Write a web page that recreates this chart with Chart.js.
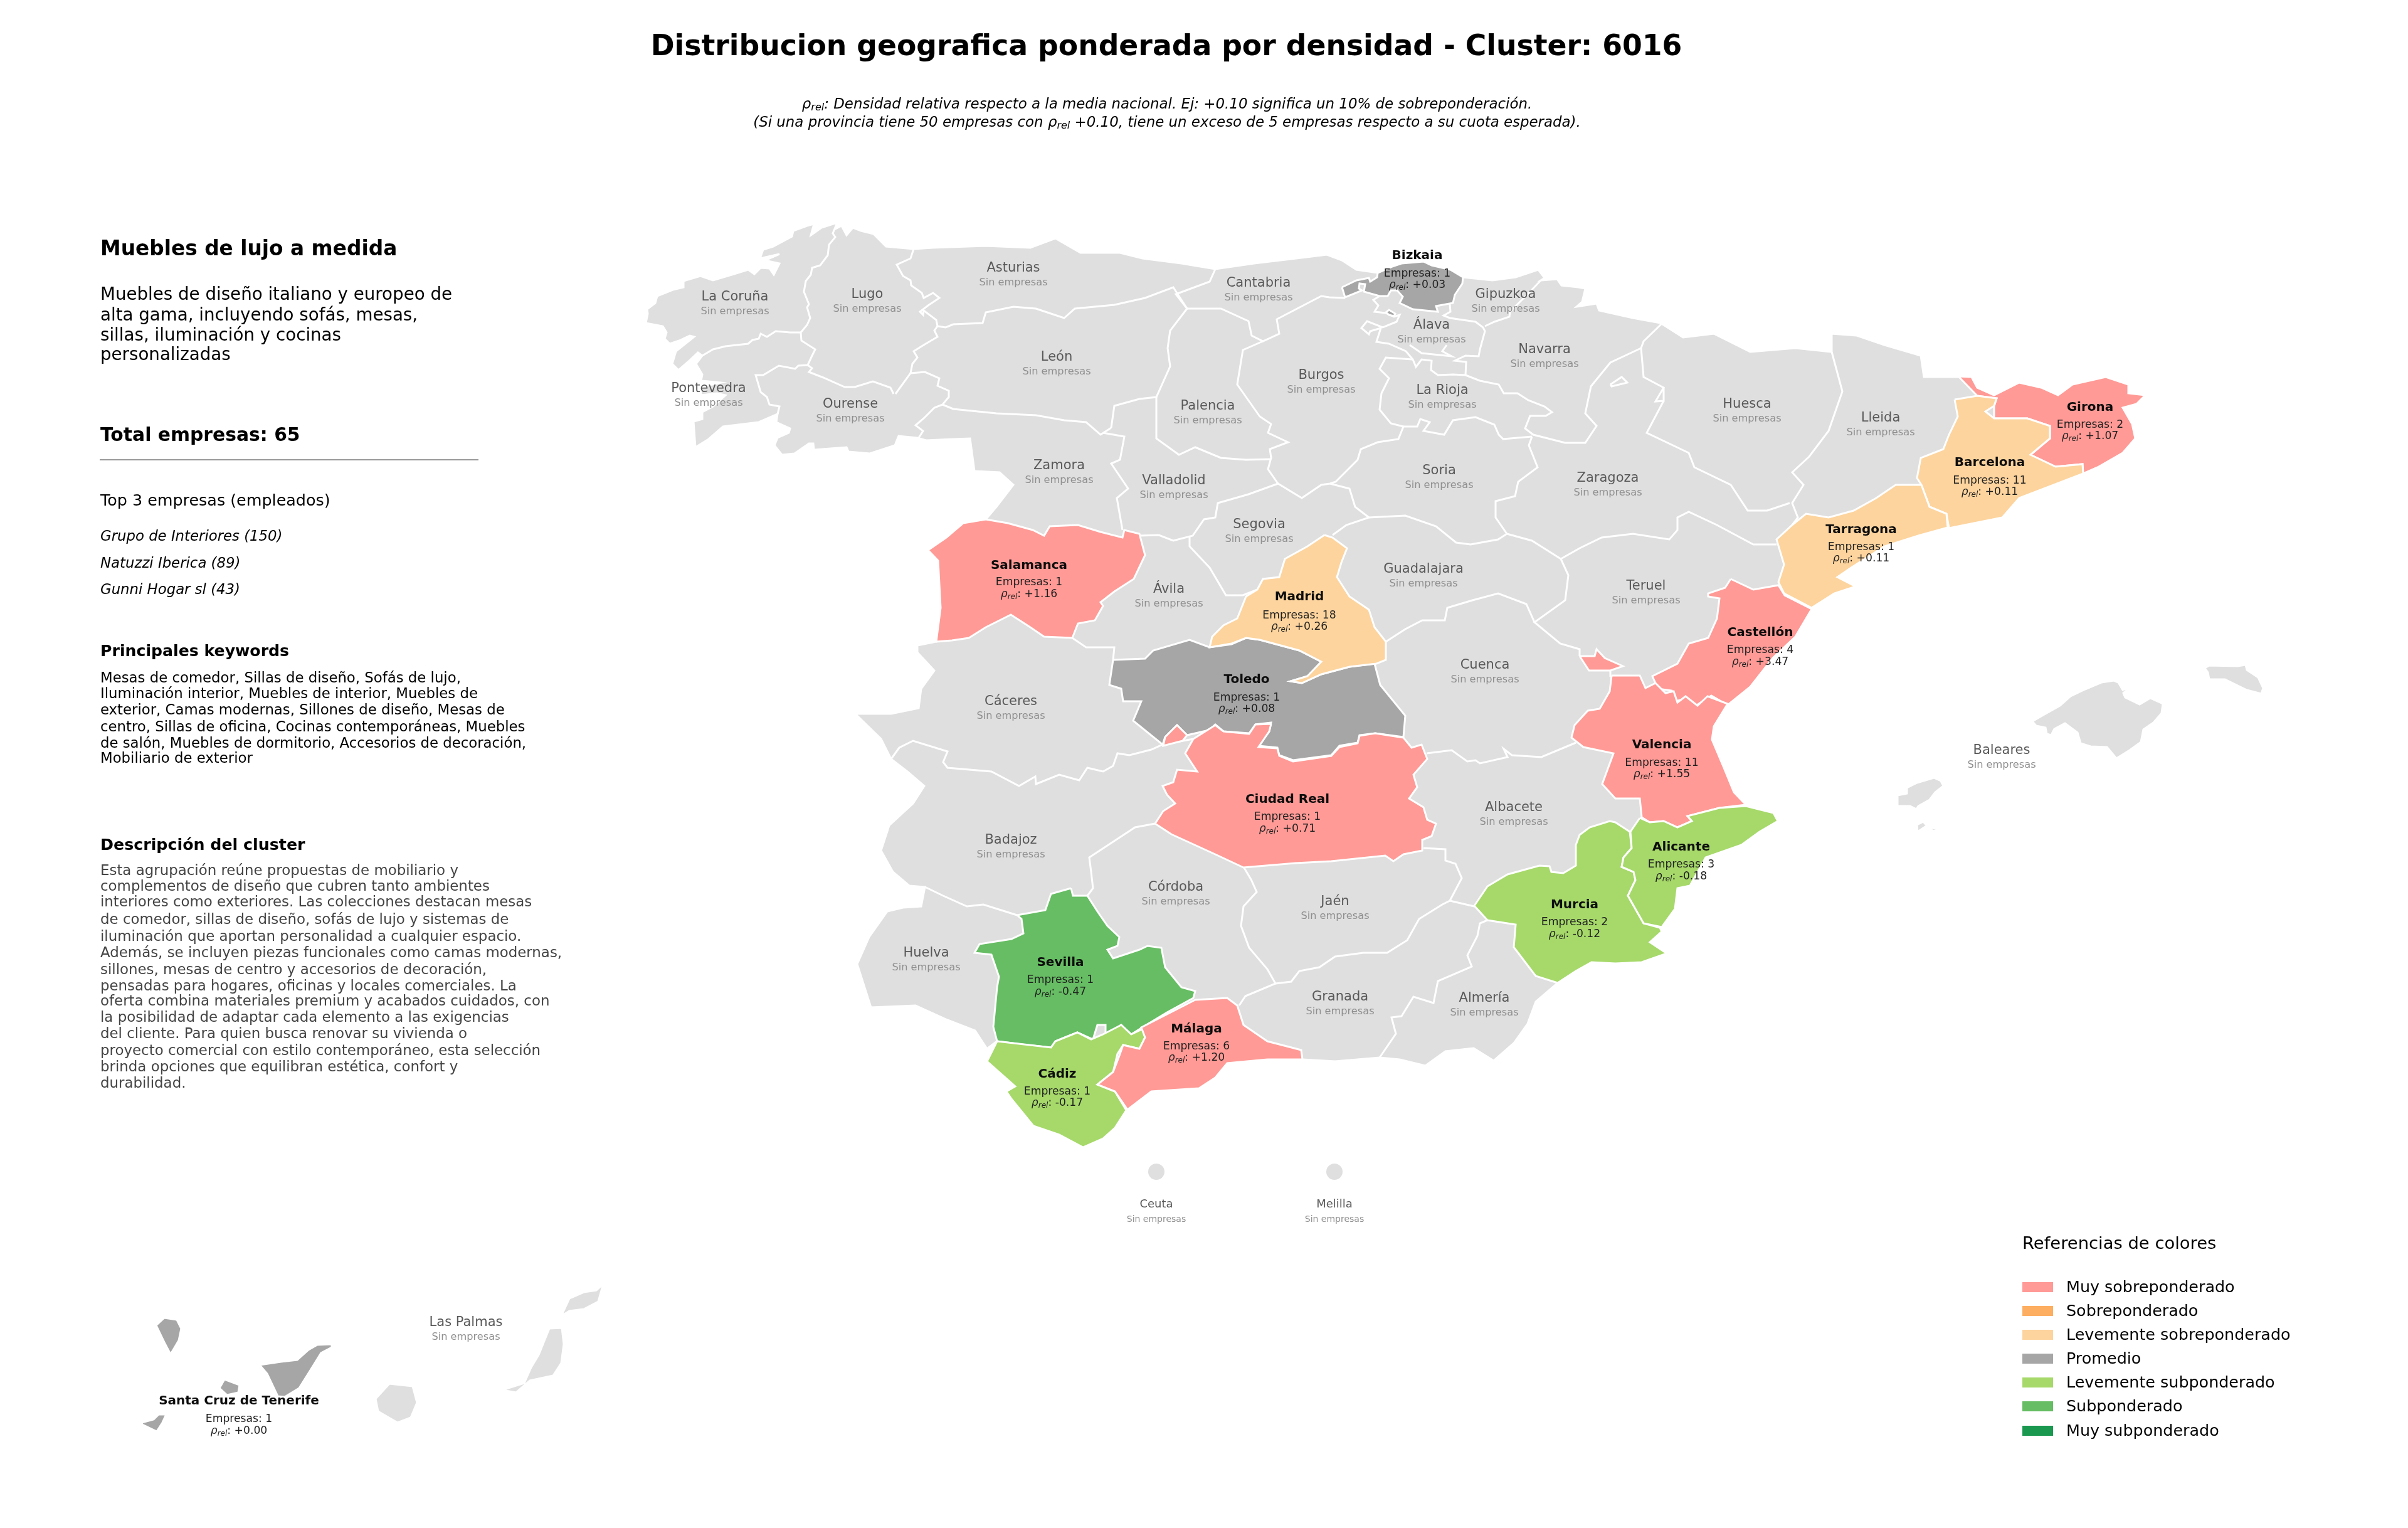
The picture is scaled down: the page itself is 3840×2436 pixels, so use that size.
<!DOCTYPE html>
<html>
<head>
<meta charset="utf-8">
<title>Distribucion geografica</title>
<script src="https://cdn.jsdelivr.net/npm/chart.js@4"></script>
<style>
    html, body { margin: 0; padding: 0; background: #fff; }
    #wrap { width: 3840px; height: 2436px; }
</style>
</head>
<body>
<div id="wrap"><canvas id="mapChart" width="3840" height="2436"></canvas></div>
<script>
// Legend categories and their colours
const legendLabels = ['Muy sobreponderado', 'Sobreponderado', 'Levemente sobreponderado', 'Promedio', 'Levemente subponderado', 'Subponderado', 'Muy subponderado'];
const legendColors = ['#ff9a96', '#fdae61', '#fdd49e', '#a6a6a6', '#a6d96a', '#66bd63', '#1a9850'];
const landColor = '#dfdfdf';

// Provinces with companies
const activeNames = ['Bizkaia', 'Salamanca', 'Madrid', 'Toledo', 'Girona', 'Barcelona', 'Tarragona', 'Castellón', 'Valencia', 'Ciudad Real', 'Alicante', 'Murcia', 'Sevilla', 'Málaga', 'Cádiz', 'Santa Cruz de Tenerife'];
const activeCompanies = [1, 1, 18, 1, 2, 11, 1, 4, 11, 1, 3, 2, 1, 6, 1, 1];
const activeRho = ['+0.03', '+1.16', '+0.26', '+0.08', '+1.07', '+0.11', '+0.11', '+3.47', '+1.55', '+0.71', '-0.18', '-0.12', '-0.47', '+1.20', '-0.17', '+0.00'];
const activeBucket = [3, 0, 2, 3, 0, 2, 2, 0, 0, 0, 4, 4, 5, 0, 4, 3];

// Provinces without companies
const emptyNames = ['La Coruña', 'Lugo', 'Asturias', 'Cantabria', 'Gipuzkoa', 'Álava', 'Navarra', 'León', 'Pontevedra', 'Ourense', 'Palencia', 'Burgos', 'La Rioja', 'Huesca', 'Lleida', 'Zamora', 'Valladolid', 'Soria', 'Zaragoza', 'Segovia', 'Guadalajara', 'Ávila', 'Teruel', 'Cáceres', 'Cuenca', 'Baleares', 'Albacete', 'Badajoz', 'Córdoba', 'Jaén', 'Huelva', 'Granada', 'Almería', 'Ceuta', 'Melilla', 'Las Palmas'];
const smallNames = ['Ceuta', 'Melilla'];

// Map outlines, in map units
const peninsula = [[1109,713],[1106,672],[1120,668],[1120,657],[1137,648],[1157,630],[1143,627],[1118,630],[1117,617],[1150,610],[1130,608],[1118,607],[1120,597],[1110,580],[1120,567],[1113,562],[1097,577],[1082,590],[1072,580],[1078,560],[1107,537],[1100,535],[1083,543],[1068,548],[1060,540],[1063,530],[1057,520],[1030,515],[1033,500],[1032,493],[1045,483],[1048,472],[1073,462],[1090,458],[1090,448],[1117,440],[1137,447],[1167,438],[1193,430],[1203,437],[1213,427],[1227,428],[1234,438],[1243,420],[1220,415],[1243,405],[1212,412],[1217,398],[1233,393],[1263,377],[1265,368],[1287,360],[1298,357],[1293,375],[1303,368],[1310,363],[1335,355],[1332,365],[1342,360],[1350,375],[1360,363],[1373,368],[1393,373],[1413,393],[1457,397],[1487,395],[1572,392],[1643,395],[1683,380],[1723,403],[1786,403],[1822,412],[1884,420],[1938,429],[2000,420],[2067,412],[2116,406],[2140,415],[2163,430],[2197,435],[2220,425],[2235,420],[2270,417],[2283,423],[2313,430],[2333,442],[2380,447],[2417,442],[2453,430],[2463,443],[2457,447],[2483,445],[2490,455],[2517,458],[2528,460],[2523,481],[2514,489],[2546,484],[2550,495],[2604,507],[2648,515],[2684,538],[2733,532],[2773,552],[2791,561],[2863,555],[2921,561],[2921,532],[2961,535],[3005,550],[3063,567],[3068,601],[3122,601],[3144,601],[3153,618],[3180,630],[3220,610],[3255,618],[3282,630],[3305,613],[3358,601],[3394,613],[3394,627],[3421,630],[3407,644],[3385,650],[3400,676],[3405,699],[3385,722],[3345,745],[3322,755],[3220,794],[3193,825],[3108,842],[3059,854],[3005,871],[2952,905],[2930,920],[2959,935],[2925,946],[2889,971],[2863,1015],[2827,1049],[2791,1095],[2755,1124],[2733,1158],[2730,1179],[2749,1224],[2765,1263],[2784,1285],[2828,1296],[2835,1309],[2806,1326],[2777,1347],[2720,1367],[2695,1412],[2675,1416],[2671,1449],[2650,1478],[2650,1485],[2631,1502],[2658,1520],[2618,1534],[2576,1536],[2538,1534],[2513,1548],[2484,1567],[2449,1597],[2436,1632],[2414,1663],[2382,1691],[2350,1671],[2305,1676],[2273,1699],[2232,1689],[2200,1686],[2129,1692],[2078,1689],[2021,1689],[1957,1695],[1938,1718],[1912,1735],[1836,1740],[1798,1769],[1778,1798],[1759,1815],[1727,1829],[1689,1809],[1648,1795],[1613,1752],[1605,1740],[1619,1732],[1574,1692],[1590,1660],[1574,1672],[1555,1643],[1511,1626],[1460,1603],[1389,1606],[1367,1537],[1386,1494],[1415,1453],[1440,1447],[1469,1445],[1475,1414],[1450,1412],[1424,1390],[1405,1356],[1418,1316],[1456,1281],[1474,1253],[1447,1230],[1421,1210],[1405,1178],[1364,1138],[1421,1138],[1465,1129],[1469,1098],[1490,1069],[1463,1040],[1463,1029],[1493,1023],[1500,969],[1496,894],[1480,877],[1509,857],[1536,834],[1572,828],[1589,808],[1616,773],[1594,753],[1554,751],[1547,699],[1520,700],[1477,702],[1463,698],[1433,695],[1427,710],[1387,723],[1353,720],[1350,713],[1298,717],[1297,707],[1290,707],[1267,723],[1247,725],[1235,710],[1240,698],[1258,690],[1260,683],[1238,673],[1240,660],[1210,673],[1153,680],[1130,700]];
const mallorca = [[3241,1150],[3262,1138],[3285,1125],[3302,1110],[3325,1099],[3351,1088],[3371,1085],[3378,1088],[3385,1100],[3398,1095],[3386,1105],[3389,1112],[3412,1123],[3429,1113],[3449,1122],[3447,1137],[3434,1152],[3418,1163],[3414,1183],[3396,1196],[3375,1209],[3360,1191],[3334,1190],[3318,1185],[3313,1168],[3293,1153],[3276,1162],[3271,1172],[3264,1170],[3262,1160],[3247,1157]];
const menorca = [[3516,1065],[3523,1061],[3568,1062],[3581,1060],[3583,1068],[3601,1080],[3609,1097],[3606,1106],[3583,1100],[3548,1083],[3523,1083],[3521,1072]];
const ibiza = [[3026,1268],[3041,1265],[3041,1256],[3057,1248],[3084,1240],[3095,1245],[3099,1253],[3086,1263],[3077,1275],[3059,1285],[3056,1290],[3046,1285],[3026,1285]];
const formentera = [[3057,1315],[3067,1310],[3075,1319],[3092,1322],[3084,1325],[3070,1318],[3058,1326]];
const granCanaria = [[621,2206],[658,2210],[665,2236],[655,2260],[634,2268],[603,2250],[599,2230]];
const fuerteventura = [[876,2118],[896,2117],[899,2143],[895,2173],[882,2193],[845,2201],[823,2220],[801,2216],[836,2205],[847,2180],[859,2160]];
const lanzarote = [[895,2098],[908,2070],[931,2060],[951,2057],[962,2047],[954,2075],[931,2087],[908,2090]];
const laPalma = [[249,2113],[262,2101],[282,2104],[289,2118],[285,2137],[272,2159],[262,2140]];
const tenerife = [[414,2176],[448,2171],[474,2168],[492,2152],[506,2144],[529,2143],[529,2148],[512,2157],[494,2186],[477,2213],[454,2227],[443,2226],[426,2190]];
const laGomera = [[358,2199],[382,2208],[380,2220],[362,2224],[350,2213]];
const elHierro = [[226,2268],[245,2263],[253,2255],[265,2255],[259,2268],[250,2282],[227,2271]];
const ceutaMelilla = [[1844,1868],[2128,1868]];

const bizkaia = [[2140,458],[2163,447],[2183,443],[2185,449],[2196,442],[2197,435],[2220,425],[2235,420],[2270,417],[2283,423],[2313,430],[2333,442],[2332,452],[2320,470],[2317,483],[2290,488],[2293,497],[2253,493],[2232,483],[2237,473],[2228,463],[2218,463],[2213,472],[2200,472],[2175,465],[2177,453],[2168,452],[2167,460],[2172,463],[2145,474]];
const bizkaiaEnclave = [[2210,498],[2215,494],[2225,500],[2223,504],[2215,502]];
const salamanca = [[1493,1023],[1500,969],[1496,894],[1480,877],[1509,857],[1536,834],[1572,828],[1607,834],[1647,845],[1665,854],[1674,839],[1719,837],[1755,848],[1790,857],[1793,845],[1817,851],[1826,885],[1808,923],[1777,943],[1755,960],[1759,966],[1746,989],[1719,994],[1710,1017],[1665,1015],[1643,1000],[1612,980],[1572,1000],[1545,1017],[1518,1021]];
const madrid = [[2112,853],[2125,857],[2148,874],[2139,897],[2132,920],[2152,951],[2183,972],[2192,1000],[2210,1023],[2210,1052],[2195,1058],[2152,1063],[2107,1075],[2076,1089],[2058,1086],[2085,1078],[2107,1055],[2072,1037],[2009,1020],[1987,1017],[1964,1026],[1929,1032],[1933,1015],[1951,997],[1973,986],[1987,951],[2005,940],[2014,923],[2040,920],[2049,891],[2085,871]];
const toledo = [[1775,1052],[1826,1050],[1839,1037],[1897,1020],[1929,1032],[1964,1027],[1987,1017],[2009,1020],[2072,1037],[2107,1055],[2085,1078],[2058,1086],[2076,1089],[2107,1075],[2152,1063],[2192,1058],[2201,1092],[2241,1141],[2238,1175],[2193,1169],[2168,1172],[2165,1184],[2136,1189],[2123,1204],[2062,1212],[2040,1204],[2037,1192],[2007,1189],[2024,1166],[2027,1152],[2002,1155],[1992,1169],[1951,1166],[1938,1155],[1928,1164],[1893,1172],[1877,1156],[1858,1175],[1854,1187],[1807,1149],[1820,1118],[1791,1118],[1788,1098],[1769,1092]];
const ciudadReal = [[2027,1154],[2024,1166],[2007,1191],[2037,1193],[2040,1205],[2062,1214],[2123,1205],[2136,1191],[2165,1185],[2168,1173],[2193,1169],[2238,1176],[2251,1192],[2267,1187],[2276,1210],[2254,1235],[2260,1255],[2247,1273],[2270,1287],[2276,1307],[2290,1313],[2283,1333],[2268,1339],[2268,1356],[2238,1362],[2222,1373],[2209,1364],[2123,1373],[2066,1376],[1983,1383],[1938,1362],[1868,1330],[1842,1313],[1855,1293],[1874,1281],[1861,1267],[1854,1253],[1871,1247],[1877,1227],[1909,1230],[1890,1201],[1903,1178],[1938,1156],[1951,1166],[1992,1170],[2002,1155]];
const ciudadRealEnclave = [[1858,1175],[1877,1156],[1893,1172],[1886,1181],[1855,1189]];
const girona = [[3123,600],[3144,601],[3153,618],[3180,630],[3220,610],[3255,618],[3282,630],[3305,613],[3358,601],[3394,613],[3394,627],[3421,630],[3407,644],[3385,650],[3400,676],[3405,699],[3385,722],[3345,745],[3322,755],[3321,740],[3278,744],[3238,725],[3269,699],[3269,679],[3233,667],[3180,667],[3180,647],[3184,635],[3153,631]];
const barcelona = [[3117,637],[3153,631],[3184,635],[3180,647],[3166,656],[3180,667],[3233,667],[3269,679],[3269,699],[3238,725],[3278,744],[3321,740],[3322,755],[3220,794],[3193,825],[3108,842],[3104,819],[3077,808],[3064,773],[3057,762],[3063,730],[3099,716],[3108,693],[3122,664]];
const tarragona = [[3064,773],[3077,808],[3104,819],[3106,841],[3059,854],[3005,871],[2952,905],[2930,920],[2959,935],[2925,946],[2889,969],[2845,946],[2836,928],[2845,900],[2833,860],[2858,837],[2880,819],[2916,825],[2956,814],[2992,794],[3023,773]];
const castellon = [[2760,923],[2796,940],[2836,933],[2846,949],[2889,971],[2863,1015],[2827,1049],[2791,1095],[2755,1124],[2729,1109],[2706,1124],[2684,1115],[2671,1118],[2666,1101],[2644,1098],[2635,1078],[2675,1058],[2693,1026],[2724,1017],[2738,986],[2742,954],[2724,951],[2724,946],[2751,937]];
const valencia = [[2570,1077],[2615,1077],[2624,1097],[2640,1089],[2656,1105],[2669,1102],[2675,1120],[2688,1110],[2707,1125],[2723,1110],[2755,1122],[2733,1158],[2730,1179],[2749,1224],[2765,1263],[2784,1283],[2742,1288],[2691,1301],[2698,1309],[2675,1319],[2653,1309],[2631,1311],[2618,1303],[2615,1273],[2576,1273],[2555,1250],[2573,1201],[2525,1191],[2506,1176],[2511,1156],[2532,1133],[2551,1130],[2567,1102]];
const valenciaEnclave = [[2519,1046],[2543,1046],[2546,1035],[2559,1049],[2588,1062],[2568,1069],[2534,1069]];
const alicante = [[2615,1304],[2631,1311],[2653,1309],[2675,1319],[2698,1309],[2691,1301],[2742,1288],[2784,1285],[2828,1296],[2835,1309],[2806,1326],[2777,1347],[2720,1367],[2695,1412],[2675,1416],[2671,1449],[2650,1478],[2621,1472],[2596,1428],[2608,1403],[2605,1390],[2586,1382],[2589,1367],[2602,1352],[2600,1326]];
const murcia = [[2599,1326],[2576,1311],[2567,1309],[2535,1319],[2519,1331],[2513,1347],[2513,1380],[2493,1392],[2474,1390],[2471,1381],[2455,1380],[2404,1394],[2372,1413],[2351,1444],[2372,1467],[2417,1474],[2414,1510],[2449,1556],[2484,1567],[2513,1548],[2538,1534],[2576,1536],[2618,1534],[2658,1520],[2631,1502],[2650,1485],[2647,1479],[2621,1472],[2596,1428],[2608,1403],[2605,1390],[2586,1382],[2589,1367],[2602,1352]];
const sevilla = [[1708,1416],[1711,1428],[1734,1428],[1750,1453],[1766,1476],[1785,1494],[1782,1508],[1766,1514],[1775,1528],[1817,1514],[1830,1508],[1852,1511],[1858,1542],[1884,1574],[1906,1580],[1903,1591],[1861,1614],[1823,1637],[1804,1649],[1788,1634],[1763,1651],[1763,1634],[1750,1634],[1743,1657],[1718,1646],[1683,1660],[1676,1670],[1629,1665],[1590,1660],[1584,1637],[1590,1574],[1593,1557],[1581,1522],[1554,1519],[1562,1505],[1613,1497],[1632,1488],[1629,1465],[1622,1459],[1667,1451],[1676,1425]];
const malaga = [[1906,1594],[1957,1591],[1973,1603],[1983,1634],[2021,1660],[2075,1674],[2077,1689],[2021,1689],[1957,1695],[1938,1718],[1912,1735],[1836,1740],[1798,1769],[1778,1740],[1750,1729],[1775,1709],[1785,1683],[1791,1666],[1817,1672],[1826,1654],[1820,1638],[1861,1617]];
const cadiz = [[1590,1660],[1676,1670],[1683,1660],[1718,1646],[1740,1657],[1759,1649],[1788,1634],[1804,1649],[1823,1640],[1826,1654],[1817,1672],[1791,1666],[1782,1680],[1775,1709],[1750,1729],[1778,1740],[1796,1770],[1778,1798],[1759,1815],[1727,1829],[1689,1809],[1648,1795],[1613,1752],[1605,1740],[1619,1732],[1574,1692]];

// Borders between the provinces without companies
const borderLines = [
    [[1120,567],[1137,557],[1157,552],[1193,548],[1200,542],[1210,540],[1213,532],[1223,537],[1237,528],[1260,530],[1277,530]],
    [[1335,355],[1328,372],[1332,378],[1322,390],[1320,407],[1308,423],[1295,427],[1293,438],[1285,448],[1282,465],[1290,485],[1287,490],[1292,507],[1287,518],[1277,530],[1278,543],[1300,557],[1295,567],[1288,582],[1295,587],[1290,593],[1313,602],[1347,617],[1363,617],[1392,608],[1420,618],[1425,628]],
    [[1457,397],[1452,412],[1430,422],[1440,440],[1452,447],[1453,455],[1470,467],[1473,475],[1488,467],[1498,475],[1480,487],[1467,497],[1472,502],[1473,495],[1493,510],[1495,520],[1490,527],[1495,537],[1473,550],[1457,560],[1463,570],[1455,580],[1452,595],[1428,628]],
    [[1288,582],[1273,583],[1268,588],[1242,583],[1217,598],[1205,598],[1213,625],[1223,633],[1227,645],[1243,648],[1240,660]],
    [[1452,595],[1475,593],[1498,603],[1495,615],[1513,623],[1513,633],[1503,645],[1490,650],[1473,667],[1460,678],[1472,687],[1465,698]],
    [[1495,520],[1508,522],[1520,517],[1567,515],[1572,498],[1616,489],[1652,492],[1697,507],[1714,492],[1777,486],[1826,475],[1871,458],[1893,492]],
    [[1938,429],[1929,449],[1875,469],[1893,492]],
    [[1893,492],[1866,527],[1862,555],[1866,584],[1844,633],[1817,636],[1777,647],[1772,682]],
    [[1503,645],[1520,652],[1589,659],[1652,662],[1697,670],[1732,673],[1755,693],[1772,682]],
    [[1759,690],[1793,696],[1786,733],[1772,739],[1799,779],[1781,794],[1790,845]],
    [[1893,492],[1947,492],[1991,512],[1996,535],[2014,544],[2040,532],[2036,509],[2107,472],[2120,474],[2145,475]],
    [[2014,544],[1982,558],[1973,613],[2009,664],[2027,676],[2022,690],[2054,705],[2025,716],[2027,730],[2022,748],[2038,771]],
    [[1844,633],[1844,699],[1880,725],[1906,713],[1947,730],[1987,733],[2027,732]],
    [[2200,472],[2190,478],[2198,487],[2192,497],[2210,499],[2223,505],[2232,502],[2227,513],[2205,522],[2180,512],[2171,523],[2183,533],[2185,528],[2202,523],[2195,545],[2215,548],[2242,560],[2253,573],[2258,585],[2267,573],[2283,575],[2282,590],[2293,598],[2317,597],[2337,598],[2338,577],[2320,575],[2337,567],[2358,568],[2360,557],[2368,528],[2365,522],[2353,513],[2312,507],[2302,503],[2313,497],[2312,485]],
    [[2248,550],[2267,563],[2315,568],[2300,560],[2307,550]],
    [[2252,573],[2210,570],[2200,588],[2215,603],[2203,627],[2200,653],[2218,675],[2238,680],[2230,700],[2197,705],[2170,716],[2165,733],[2130,768],[2121,771],[2107,773],[2076,794],[2038,771],[1991,788],[1942,802],[1938,825],[1920,828],[1902,854],[1871,862],[1848,853],[1817,854]],
    [[2238,680],[2260,680],[2265,668],[2280,673],[2270,687],[2303,693],[2317,670],[2353,665],[2383,677],[2390,693],[2397,700],[2443,696]],
    [[1897,854],[1897,871],[1929,905],[1955,949],[1982,949],[2005,940]],
    [[1710,1017],[1732,1032],[1777,1032],[1775,1052]],
    [[2121,771],[2152,779],[2161,808],[2183,825],[2147,837],[2125,853]],
    [[2183,825],[2241,822],[2290,839],[2322,865],[2345,868],[2389,860],[2403,851],[2385,825],[2385,799],[2416,791],[2421,768],[2452,745],[2438,710],[2443,696]],
    [[2337,598],[2360,607],[2390,613],[2398,627],[2420,627],[2437,638],[2463,648],[2475,657],[2465,663],[2440,663],[2432,683],[2445,693],[2496,706],[2528,706],[2546,679],[2528,659],[2537,616],[2568,578],[2617,555],[2621,544],[2650,516]],
    [[2368,520],[2383,513],[2407,505],[2408,497],[2440,465],[2457,447]],
    [[2568,613],[2586,601],[2595,610],[2570,616],[2568,613]],
    [[2617,555],[2621,601],[2653,618],[2640,640],[2653,639],[2653,618]],
    [[2653,639],[2626,690],[2693,722],[2702,745],[2760,773],[2787,814],[2818,814],[2854,802]],
    [[2921,561],[2938,624],[2916,687],[2885,728],[2858,753],[2876,773],[2858,802],[2867,825],[2858,837]],
    [[2833,868],[2796,868],[2738,837],[2693,816],[2675,825],[2675,845],[2662,860],[2604,851],[2554,857],[2519,874],[2489,891],[2443,862],[2403,851]],
    [[2489,891],[2501,917],[2496,957],[2447,992],[2488,1026],[2519,1035],[2519,1046]],
    [[2568,1069],[2568,1078],[2630,1098]],
    [[2447,992],[2434,963],[2389,946],[2348,957],[2308,969],[2304,989],[2268,989],[2241,1003],[2210,1023]],
    [[2275,1201],[2315,1196],[2340,1214],[2353,1212],[2360,1217],[2404,1207],[2398,1194],[2411,1204],[2458,1207],[2513,1184]],
    [[2270,1352],[2305,1354],[2305,1372],[2321,1377],[2331,1400],[2312,1436],[2351,1445]],
    [[2312,1436],[2300,1442],[2263,1465],[2244,1499],[2212,1519],[2174,1519],[2129,1525],[2104,1542],[2072,1548],[2059,1565],[2034,1568]],
    [[2372,1467],[2360,1472],[2356,1492],[2340,1523],[2347,1541],[2293,1564],[2286,1599],[2254,1589],[2235,1620],[2219,1622],[2226,1648],[2200,1686]],
    [[1983,1382],[1995,1402],[2004,1422],[1983,1445],[1979,1476],[1992,1511],[2021,1545],[2034,1568],[1986,1588],[1976,1603]],
    [[1842,1313],[1810,1319],[1775,1342],[1737,1367],[1740,1390],[1743,1416],[1734,1428]],
    [[1475,1414],[1504,1428],[1542,1445],[1568,1442],[1622,1459]],
    [[1421,1210],[1434,1192],[1456,1181],[1511,1198],[1504,1215],[1511,1224],[1581,1230],[1625,1253],[1651,1238],[1652,1250],[1689,1235],[1721,1244],[1734,1224],[1759,1230],[1775,1221],[1782,1201],[1801,1204],[1836,1195],[1854,1187],[1903,1178]],
    [[1590,1660],[1574,1672]]
];

// Side panel text
const chartTitle = 'Distribucion geografica ponderada por densidad - Cluster: 6016';
const clusterName = 'Muebles de lujo a medida';
const clusterSummary = ['Muebles de diseño italiano y europeo de', 'alta gama, incluyendo sofás, mesas,', 'sillas, iluminación y cocinas', 'personalizadas'];
const totalText = 'Total empresas: 65';
const topHeading = 'Top 3 empresas (empleados)';
const topCompanies = ['Grupo de Interiores (150)', 'Natuzzi Iberica (89)', 'Gunni Hogar sl (43)'];
const keywordsHeading = 'Principales keywords';
const keywordLines = ['Mesas de comedor, Sillas de diseño, Sofás de lujo,', 'Iluminación interior, Muebles de interior, Muebles de', 'exterior, Camas modernas, Sillones de diseño, Mesas de', 'centro, Sillas de oficina, Cocinas contemporáneas, Muebles', 'de salón, Muebles de dormitorio, Accesorios de decoración,', 'Mobiliario de exterior'];
const descHeading = 'Descripción del cluster';
const descLines = ['Esta agrupación reúne propuestas de mobiliario y', 'complementos de diseño que cubren tanto ambientes', 'interiores como exteriores. Las colecciones destacan mesas', 'de comedor, sillas de diseño, sofás de lujo y sistemas de', 'iluminación que aportan personalidad a cualquier espacio.', 'Además, se incluyen piezas funcionales como camas modernas,', 'sillones, mesas de centro y accesorios de decoración,', 'pensadas para hogares, oficinas y locales comerciales. La', 'oferta combina materiales premium y acabados cuidados, con', 'la posibilidad de adaptar cada elemento a las exigencias', 'del cliente. Para quien busca renovar su vivienda o', 'proyecto comercial con estilo contemporáneo, esta selección', 'brinda opciones que equilibran estética, confort y', 'durabilidad.'];

// Where the labels go on the map
const activeAt = [[2260,406,435,453],[1641,900,927,946],[2072,950,980,998],[1988,1082,1111,1129],[3333,648,676,694],[3173,736,765,783],[2968,843,871,889],[2807,1007,1035,1054],[2650,1186,1215,1233],[2053,1273,1301,1320],[2681,1349,1377,1396],[2511,1441,1469,1488],[1691,1533,1561,1580],[1908,1639,1667,1685],[1686,1711,1739,1757],[381,2232,2261,2280]];
const emptyAt = [[1172,472],[1383,468],[1616,426],[2007,450],[2401,468],[2283,517],[2463,556],[1685,568],[1130,618],[1356,643],[1926,646],[2107,597],[2300,621],[2786,643],[2999,665],[1689,741],[1872,765],[2295,749],[2564,761],[2008,835],[2270,906],[1864,938],[2625,933],[1612,1117],[2368,1059],[3192,1195],[2414,1286],[1612,1338],[1875,1413],[2129,1436],[1477,1518],[2137,1588],[2367,1590],[1844,1918],[2128,1918],[743,2107]];

const fontName = '"DejaVu Sans"';
// canvas 'middle' sits a little above the visual centre of the glyphs
const textDrop = 2;

function closed(points) {
    return points.concat([points[0]]).map(p => ({ x: p[0], y: p[1] }));
}

function shapeDataset(points, color) {
    return {
        data: closed(points),
        polygon: true,
        backgroundColor: color,
        borderColor: '#ffffff',
        borderWidth: 3,
        showLine: true,
        pointRadius: 0,
        tension: 0
    };
}

function buildDatasets() {
    // painted in this order, the list is reversed at the end
    const list = [];
    [peninsula, mallorca, menorca, ibiza, formentera, granCanaria, fuerteventura, lanzarote].forEach(s => {
        list.push(shapeDataset(s, landColor));
    });
    list.push({
        data: ceutaMelilla.map(p => ({ x: p[0], y: p[1] })),
        showLine: false,
        pointRadius: 13,
        pointBackgroundColor: landColor,
        pointBorderWidth: 0
    });
    borderLines.forEach(line => {
        list.push({
            data: line.map(p => ({ x: p[0], y: p[1] })),
            borderColor: '#ffffff',
            borderWidth: 3,
            showLine: true,
            pointRadius: 0,
            tension: 0
        });
    });
    // outline, index into activeNames
    const shapes = [
        [toledo, 3], [ciudadReal, 9], [ciudadRealEnclave, 9], [madrid, 2], [salamanca, 1], [bizkaia, 0], [bizkaiaEnclave, 0],
        [girona, 4], [barcelona, 5], [tarragona, 6], [castellon, 7], [valencia, 8], [valenciaEnclave, 8],
        [murcia, 11], [alicante, 10], [sevilla, 12], [cadiz, 14], [malaga, 13],
        [laPalma, 15], [tenerife, 15], [laGomera, 15], [elHierro, 15]
    ];
    shapes.forEach(([points, idx]) => {
        list.push(shapeDataset(points, legendColors[activeBucket[idx]]));
    });
    return list.reverse();
}

// Fill the closed outlines, the line element only strokes them
const polygonFill = {
    id: 'polygonFill',
    beforeDatasetDraw(chart, args) {
        const ds = chart.data.datasets[args.index];
        if (!ds.polygon) return;
        const pts = args.meta.data;
        const ctx = chart.ctx;
        ctx.save();
        ctx.beginPath();
        pts.forEach((p, i) => {
            if (i === 0) ctx.moveTo(p.x, p.y);
            else ctx.lineTo(p.x, p.y);
        });
        ctx.closePath();
        ctx.fillStyle = ds.backgroundColor;
        ctx.fill();
        ctx.restore();
    }
};

// Draws "rho_rel" runs followed by normal text, centred on x
function drawRhoLine(ctx, x, y, size, runs, style) {
    const widths = runs.map(r => {
        const s = r.sub ? size * 0.7 : size;
        ctx.font = `${r.italic ? 'italic ' : ''}${s}px ${fontName}`;
        return ctx.measureText(r.text).width;
    });
    let left = x - widths.reduce((a, b) => a + b, 0) / 2;
    ctx.textAlign = 'left';
    ctx.fillStyle = style;
    runs.forEach((r, i) => {
        const s = r.sub ? size * 0.7 : size;
        ctx.font = `${r.italic ? 'italic ' : ''}${s}px ${fontName}`;
        ctx.fillText(r.text, left, (r.sub ? y + size * 0.22 : y) + textDrop);
        left += widths[i];
    });
}

function drawText(ctx, text, x, y, font, color, align) {
    ctx.font = `${font} ${fontName}`;
    ctx.fillStyle = color;
    ctx.textAlign = align || 'left';
    ctx.fillText(text, x, y + textDrop);
}

const textLayer = {
    id: 'textLayer',
    afterDraw(chart) {
        const ctx = chart.ctx;
        const sx = v => chart.scales.x.getPixelForValue(v);
        const sy = v => chart.scales.y.getPixelForValue(v);
        ctx.save();
        ctx.textBaseline = 'middle';

        // province labels
        emptyNames.forEach((name, i) => {
            const [x, y] = emptyAt[i];
            const small = smallNames.includes(name);
            drawText(ctx, name, sx(x), sy(y), small ? '18px' : '21px', '#595959', 'center');
            drawText(ctx, 'Sin empresas', sx(x), sy(y + (small ? 24 : 23)), small ? '14px' : '16.2px', '#8f8f8f', 'center');
        });
        activeNames.forEach((name, i) => {
            const [x, y0, y1, y2] = activeAt[i];
            drawText(ctx, name, sx(x), sy(y0), 'bold 20px', '#0d0d0d', 'center');
            drawText(ctx, 'Empresas: ' + activeCompanies[i], sx(x), sy(y1), '17.2px', '#1f1f1f', 'center');
            drawRhoLine(ctx, sx(x), sy(y2), 17.2, [
                { text: 'ρ', italic: true },
                { text: 'rel', italic: true, sub: true },
                { text: ': ' + activeRho[i] }
            ], '#1f1f1f');
        });

        // title and note
        drawText(ctx, chartTitle, 1860, 74, 'bold 45.7px', '#000000', 'center');
        drawRhoLine(ctx, 1861, 165, 22.9, [
            { text: 'ρ', italic: true },
            { text: 'rel', italic: true, sub: true },
            { text: ': Densidad relativa respecto a la media nacional. Ej: +0.10 significa un 10% de sobreponderación.', italic: true }
        ], '#000000');
        drawRhoLine(ctx, 1861, 194, 22.9, [
            { text: '(Si una provincia tiene 50 empresas con ', italic: true },
            { text: 'ρ', italic: true },
            { text: 'rel', italic: true, sub: true },
            { text: ' +0.10, tiene un exceso de 5 empresas respecto a su cuota esperada).', italic: true }
        ], '#000000');

        // side panel
        drawText(ctx, clusterName, 160, 396, 'bold 32.8px', '#000000');
        [469, 502, 534, 565].forEach((y, i) => drawText(ctx, clusterSummary[i], 160, y, '27.7px', '#000000'));
        drawText(ctx, totalText, 160, 693, 'bold 29.8px', '#000000');
        ctx.fillStyle = '#999999';
        ctx.fillRect(159, 732, 604, 2);
        drawText(ctx, topHeading, 160, 797, '25.4px', '#000000');
        [854, 897, 939].forEach((y, i) => drawText(ctx, topCompanies[i], 160, y, 'italic 22.8px', '#000000'));
        drawText(ctx, keywordsHeading, 160, 1037, 'bold 25.2px', '#000000');
        [1080, 1105, 1131, 1158, 1184, 1208].forEach((y, i) => drawText(ctx, keywordLines[i], 160, y, '22.8px', '#000000'));
        drawText(ctx, descHeading, 160, 1346, 'bold 25.3px', '#000000');
        [1387, 1412, 1437, 1465, 1492, 1518, 1545, 1571, 1595, 1621, 1647, 1674, 1700, 1726].forEach((y, i) => {
            drawText(ctx, descLines[i], 160, y, '22.9px', '#444444');
        });

        // colour legend
        drawText(ctx, 'Referencias de colores', 3225, 1982, '27.4px', '#000000');
        [2052, 2090, 2128, 2166, 2204, 2242, 2281].forEach((y, i) => {
            ctx.fillStyle = legendColors[i];
            ctx.fillRect(3225, y - 8, 49, 16);
            drawText(ctx, legendLabels[i], 3295, y - 1, '25.4px', '#000000');
        });
        ctx.restore();
    }
};

window.onload = () => {
    new Chart(document.getElementById('mapChart').getContext('2d'), {
        type: 'scatter',
        data: { datasets: buildDatasets() },
        options: {
            responsive: false,
            devicePixelRatio: 1,
            animation: false,
            events: [],
            layout: { padding: 0, autoPadding: false },
            scales: {
                x: { type: 'linear', display: false, min: 0, max: 3840 },
                y: { type: 'linear', display: false, min: 0, max: 2436, reverse: true }
            },
            plugins: { legend: { display: false }, tooltip: { enabled: false } }
        },
        plugins: [polygonFill, textLayer]
    });
};
</script>
</body>
</html>
